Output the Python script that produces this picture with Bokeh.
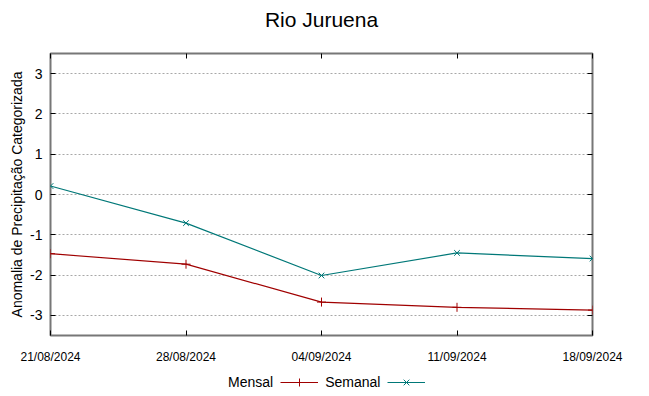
import pandas as pd
from bokeh.plotting import figure
from bokeh.layouts import column
from bokeh.models import (FixedTicker, DatetimeTickFormatter, LinearAxis, DatetimeAxis,
                          Range1d, Legend, LegendItem)
from bokeh.embed import file_html
from bokeh.resources import INLINE

# ---- data ----
dates = ["2024-08-21", "2024-08-28", "2024-09-04", "2024-09-11", "2024-09-18"]
mensal = [-1.47, -1.73, -2.67, -2.80, -2.87]
semanal = [0.21, -0.71, -2.01, -1.45, -1.59]
y_ticks = [-3, -2, -1, 0, 1, 2, 3]
y_tick_labels = ["-3", "-2", "-1", "0", "1", "2", "3"]
series_names = ["Mensal", "Semanal"]
title_text = "Rio Juruena"
y_label = "Anomalia de Precipitação Categorizada"

FONT = "Liberation Sans"
C_MENSAL = "#a00000"
C_SEMANAL = "#007878"

x = pd.to_datetime(dates)
tick_ms = [d.timestamp() * 1000 for d in x]

LEFT, RIGHT = 42, 41


def strip(height):
    f = figure(width=633, height=height, output_backend="svg", toolbar_location=None,
               x_range=Range1d(0, 1), y_range=Range1d(0, 1),
               min_border_left=LEFT, min_border_right=RIGHT,
               min_border_top=0, min_border_bottom=0)
    f.axis.visible = False
    f.grid.visible = False
    f.outline_line_color = None
    f.background_fill_color = "white"
    f.border_fill_color = "white"
    return f


# ---- title strip ----
tp = strip(40)
tp.title.text = title_text
tp.title.align = "center"
tp.title.text_font = FONT
tp.title.text_font_size = "21px"
tp.title.text_font_style = "normal"
tp.title.text_color = "#000000"
tp.title.standoff = 10

# ---- main plot ----
p = figure(width=633, height=326, output_backend="svg", toolbar_location=None,
           x_axis_type="datetime",
           x_range=Range1d(tick_ms[0], tick_ms[-1]), y_range=Range1d(-3.5, 3.5),
           min_border_left=LEFT, min_border_right=RIGHT, min_border_top=13, min_border_bottom=30)

p.outline_line_color = "#777777"
p.outline_line_width = 2
p.background_fill_color = "white"
p.border_fill_color = "white"

p.xgrid.visible = False
p.ygrid.ticker = FixedTicker(ticks=y_ticks)
p.ygrid.grid_line_color = "#a8a8a8"
p.ygrid.grid_line_dash = "2 2"
p.ygrid.grid_line_width = 1

fmt = "%d/%m/%Y"
dfmt = DatetimeTickFormatter(days=fmt, months=fmt, years=fmt, hours=fmt, minutes=fmt,
                             seconds=fmt, milliseconds=fmt, microseconds=fmt,
                             hourmin=fmt, minsec=fmt)

xa = p.xaxis[0]
xa.ticker = FixedTicker(ticks=tick_ms)
xa.formatter = dfmt
xa.axis_line_color = None
xa.major_tick_in = 5
xa.major_tick_out = 0
xa.minor_tick_line_color = None
xa.major_tick_line_color = "black"
xa.major_label_text_font = FONT
xa.major_label_text_font_size = "12px"
xa.major_label_text_color = "#000000"
xa.major_label_standoff = 14

ya = p.yaxis[0]
ya.ticker = FixedTicker(ticks=y_ticks)
ya.major_label_overrides = dict(zip(y_ticks, y_tick_labels))
ya.axis_line_color = None
ya.major_tick_in = 5
ya.major_tick_out = 0
ya.minor_tick_line_color = None
ya.major_tick_line_color = "black"
ya.major_label_text_font = FONT
ya.major_label_text_font_size = "14px"
ya.major_label_text_color = "#000000"
ya.major_label_standoff = 8
ya.axis_label = y_label
ya.axis_label_text_font = FONT
ya.axis_label_text_font_size = "14px"
ya.axis_label_text_font_style = "normal"
ya.axis_label_text_color = "#000000"
ya.axis_label_standoff = 2

# outer padding on the left (empty axis, invisible ticks)
pad = LinearAxis(ticker=FixedTicker(ticks=y_ticks), axis_line_color=None,
                 major_tick_in=0, major_tick_out=6, major_tick_line_color=None,
                 minor_tick_line_color=None, major_label_standoff=0,
                 major_label_overrides={t: "" for t in y_ticks})
p.add_layout(pad, "left")

# mirrored ticks (no labels)
ra = LinearAxis(ticker=FixedTicker(ticks=y_ticks), axis_line_color=None,
                major_tick_in=5, major_tick_out=0, minor_tick_line_color=None,
                major_label_overrides={t: "" for t in y_ticks}, major_label_standoff=0)
p.add_layout(ra, "right")
ta = DatetimeAxis(ticker=FixedTicker(ticks=tick_ms), axis_line_color=None,
                  major_tick_in=5, major_tick_out=0, minor_tick_line_color=None,
                  major_label_overrides={t: "" for t in tick_ms}, major_label_standoff=0)
p.add_layout(ta, "above")

p.line(x, mensal, line_color=C_MENSAL, line_width=1.2)
p.scatter(x, mensal, marker="cross", size=9, line_color=C_MENSAL, line_width=1)
p.line(x, semanal, line_color=C_SEMANAL, line_width=1.2)
p.scatter(x, semanal, marker="x", size=8, line_color=C_SEMANAL, line_width=1)

# ---- legend strip (gnuplot style: label, then sample) ----
lg = strip(28)
# same series, outside the strip's view: only their legend samples show
blank = lg.line(x, mensal, line_alpha=0)
lm = lg.line(x, mensal, line_color=C_MENSAL, line_width=1.2)
sm = lg.scatter(x, mensal, marker="cross", size=9, line_color=C_MENSAL, line_width=1)
ls = lg.line(x, semanal, line_color=C_SEMANAL, line_width=1.2)
ss = lg.scatter(x, semanal, marker="x", size=8, line_color=C_SEMANAL, line_width=1)

legend = Legend(items=[
    LegendItem(label=series_names[0], renderers=[blank]),
    LegendItem(label=series_names[1], renderers=[lm, sm]),
    LegendItem(label=" ", renderers=[ls, ss]),
], orientation="horizontal", location=(133, 2))
legend.glyph_width = 38
legend.glyph_height = 20
legend.label_height = 20
legend.label_standoff = 7
legend.spacing = 7
legend.padding = 0
legend.margin = 0
legend.border_line_color = None
legend.background_fill_alpha = 0
legend.label_text_font = FONT
legend.label_text_font_size = "14px"
legend.label_text_color = "#000000"
lg.add_layout(legend, "center")

layout = column(tp, p, lg, spacing=0)
open("out.html", "w").write(file_html(layout, INLINE))
